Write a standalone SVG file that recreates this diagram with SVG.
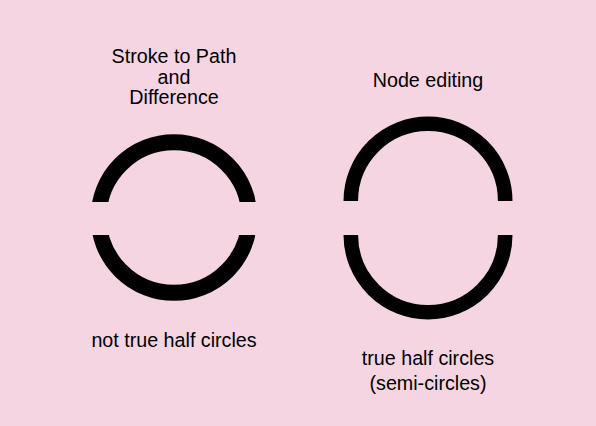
<svg xmlns="http://www.w3.org/2000/svg" width="596" height="426" viewBox="0 0 596 426">
<style>
text{font-family:"Liberation Sans",Arial,sans-serif;font-size:19.7px;fill:#000;text-anchor:middle}
.arc{fill:none;stroke:#000}
</style>
<defs>
<clipPath id="cut">
<rect x="0" y="0" width="300" height="202"/>
<rect x="0" y="235" width="300" height="191"/>
</clipPath>
</defs>
<rect width="596" height="426" fill="#f5d5e1"/>
<g id="left">
<text x="174" y="63">Stroke to Path</text>
<text x="174" y="83.5">and</text>
<text x="174" y="104">Difference</text>
<circle class="arc" stroke-width="16" cx="174" cy="217.5" r="75.3" clip-path="url(#cut)"/>
<text x="174" y="347">not true half circles</text>
</g>
<g id="right">
<text x="428" y="87">Node editing</text>
<path class="arc" stroke-width="14.6" d="M 350.8 201 A 77.2 77.2 0 0 1 505.2 201"/>
<path class="arc" stroke-width="14.6" d="M 350.8 235 A 77.2 77.2 0 0 0 505.2 235"/>
<text x="428" y="364.5">true half circles</text>
<text x="428" y="389.5">(semi-circles)</text>
</g>
</svg>
